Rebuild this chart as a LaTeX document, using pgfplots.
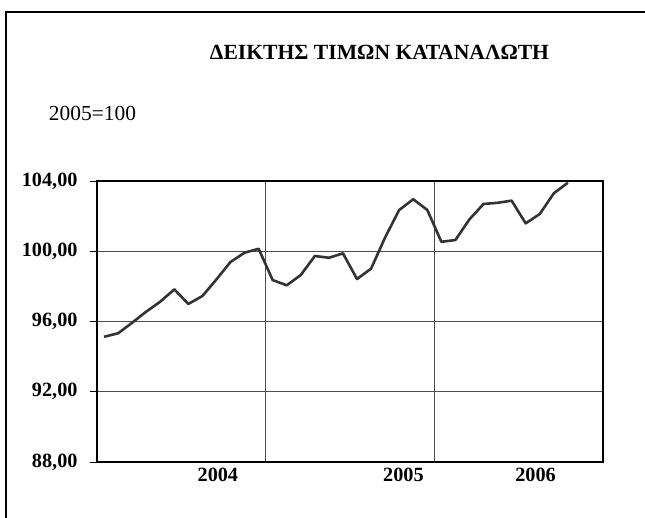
\documentclass[border=0pt]{standalone}
\usepackage{fontspec}
\setmainfont{Liberation Serif}
\usepackage{pgfplots}
\pgfplotsset{compat=1.18}
\begin{document}
\begin{tikzpicture}
\path[use as bounding box] (0bp,0bp) rectangle (645bp,-518bp);
\draw[line width=1.2bp] (6bp,-518bp) -- (6bp,-12bp) -- (645bp,-12bp);
\node[font=\fontsize{21.7}{24}\selectfont\bfseries] at (379.5bp,-52bp) {ΔΕΙΚΤΗΣ ΤΙΜΩΝ ΚΑΤΑΝΑΛΩΤΗ};
\node[font=\fontsize{21.5}{24}\selectfont] at (92.5bp,-113bp) {2005=100};
\begin{axis}[
  at={(97bp,-462bp)}, anchor=south west,
  width=506bp, height=281bp, scale only axis,
  xmin=0, xmax=36, ymin=88, ymax=104,
  xtick={12,24}, xticklabels={},
  ytick={88,92,96,100,104},
  ytick pos=left,
  xmajorgrids, ymajorgrids,
  major grid style={draw=black!70, line width=0.8bp},
  axis line style={line width=1.3bp},
  tick align=outside,
  major tick length=7bp,
  ytick style={line width=0.8bp, black},
  xtick style={/pgfplots/major tick length=0pt},
  extra x ticks={8.6,21.8,31.2},
  extra x tick labels={2004,2005,2006},
  extra x tick style={grid=none, major tick length=0pt},
  /pgf/number format/assume math mode=true,
  yticklabel={\pgfmathprintnumber[fixed,fixed zerofill,precision=2,use comma]{\tick}},
  tick label style={font=\fontsize{20.3}{22}\selectfont\bfseries},
  yticklabel style={xshift=-9bp},
  xticklabel style={yshift=-3bp},
  clip=false,
]
\addplot[draw=black!80, line width=2.6bp, line join=round] coordinates {
(0.5,95.13) (1.5,95.33) (2.5,95.93) (3.5,96.56) (4.5,97.13) (5.5,97.83)
(6.5,97.00) (7.5,97.45) (8.5,98.40) (9.5,99.39) (10.5,99.92) (11.5,100.14)
(12.5,98.36) (13.5,98.06) (14.5,98.65) (15.5,99.73) (16.5,99.63) (17.5,99.88)
(18.5,98.42) (19.5,99.01) (20.5,100.79) (21.5,102.35) (22.5,102.96) (23.5,102.35)
(24.5,100.54) (25.5,100.64) (26.5,101.82) (27.5,102.69) (28.5,102.76) (29.5,102.88)
(30.5,101.59) (31.5,102.12) (32.5,103.30) (33.5,103.90)
};
\end{axis}
\end{tikzpicture}
\end{document}
